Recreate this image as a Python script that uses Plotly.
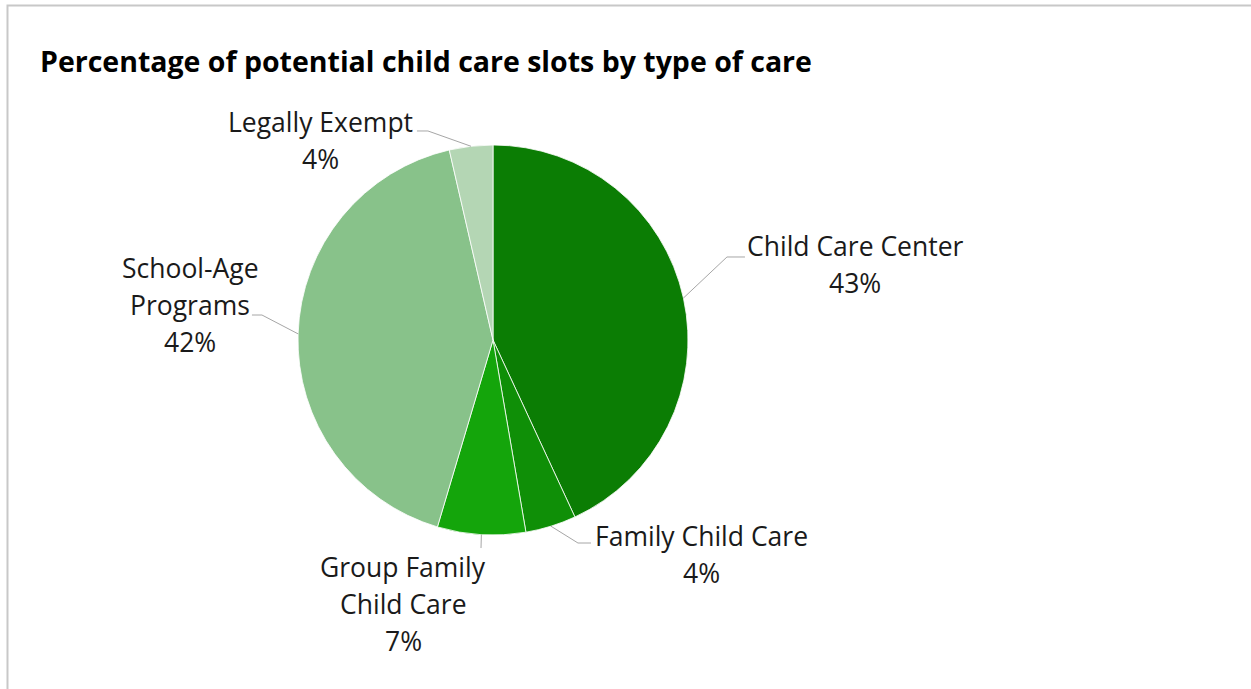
import math
import plotly.graph_objects as go

TITLE = "Percentage of potential child care slots by type of care"

categories = ["Child Care Center", "Family Child Care", "Group Family Child Care",
              "School-Age Programs", "Legally Exempt"]
shares = [43.1, 4.2, 7.3, 41.8, 3.6]
label_lines = [["Child Care Center"], ["Family Child Care"], ["Group Family", "Child Care"],
               ["School-Age", "Programs"], ["Legally Exempt"]]
slice_colors = ["#0b7d04", "#0f8f07", "#14a50b", "#88c28a", "#b4d6b4"]

W, H = 1251, 689
CX, CY, R = 493, 340, 195          # pie centre / radius in px
LINE_GAP = 37
FONT = "Open Sans"
LEADER = "#a6a6a6"

# label block (centre x, first line y) and leader elbow/end points, px
label_layout = {
    "Child Care Center": dict(x=855, y=246, path=[(727, 257), (745, 257)]),
    "Family Child Care": dict(x=701, y=536, path=[(578, 543), (591, 543)]),
    "Group Family Child Care": dict(x=403, y=567, path=[(481, 548)]),
    "School-Age Programs": dict(x=190, y=268, path=[(262, 315), (252, 315)]),
    "Legally Exempt": dict(x=320, y=122, path=[(428, 131), (417, 131)]),
}


def px(x, y):
    return x / W, 1 - y / H


fig = go.Figure()
x0, _ = px(CX - R, 0)
x1, _ = px(CX + R, 0)
_, y0 = px(0, CY + R)
_, y1 = px(0, CY - R)
fig.add_trace(go.Pie(
    labels=categories, values=shares, sort=False, direction="clockwise", rotation=0,
    marker=dict(colors=slice_colors, line=dict(color="white", width=0.8)),
    textinfo="none", hoverinfo="label+percent", showlegend=False,
    domain=dict(x=[x0, x1], y=[y0, y1]),
))

total = sum(shares)
annotations = []
shapes = []
cum = 0
for cat, val, lines in zip(categories, shares, label_lines):
    mid = (cum + val / 2) / total * 2 * math.pi
    cum += val
    ex, ey = CX + R * math.sin(mid), CY - R * math.cos(mid)
    lay = label_layout[cat]
    pts = [(ex, ey)] + lay["path"]
    path = "M " + " L ".join("%.4f,%.4f" % px(a, b) for a, b in pts)
    shapes.append(dict(type="path", path=path, xref="paper", yref="paper",
                       line=dict(color=LEADER, width=1)))
    pct = "%d%%" % round(val / total * 100)
    for i, t in enumerate(lines + [pct]):
        ax, ay = px(lay["x"], lay["y"] + i * LINE_GAP)
        annotations.append(dict(text=t, x=ax, y=ay, xref="paper", yref="paper",
                                xanchor="center", yanchor="middle", showarrow=False,
                                font=dict(family=FONT, size=26.5, color="#1a1a1a")))

tx, ty = px(38, 61)
annotations.append(dict(text="<b>" + TITLE + "</b>", x=tx, y=ty, xref="paper", yref="paper",
                        xanchor="left", yanchor="middle", showarrow=False,
                        font=dict(family=FONT, size=28.5, color="black")))

# chart frame (only top and left edges fall inside the picture)
bx, by = px(7.5, H + 2)
cx_, cy_ = px(7.5, 5.5)
dx, _ = px(W + 2, 0)
shapes.append(dict(type="path", path="M %f,%f L %f,%f L %f,%f" % (bx, by, cx_, cy_, dx, cy_),
                   xref="paper", yref="paper", line=dict(color="#c8c8c8", width=2)))

fig.update_layout(
    width=W, height=H, margin=dict(l=0, r=0, t=0, b=0),
    paper_bgcolor="white", plot_bgcolor="white",
    annotations=annotations, shapes=shapes,
)

fig.write_html("out.html", config={"displayModeBar": False},
               post_script="document.body.style.margin='0';")
